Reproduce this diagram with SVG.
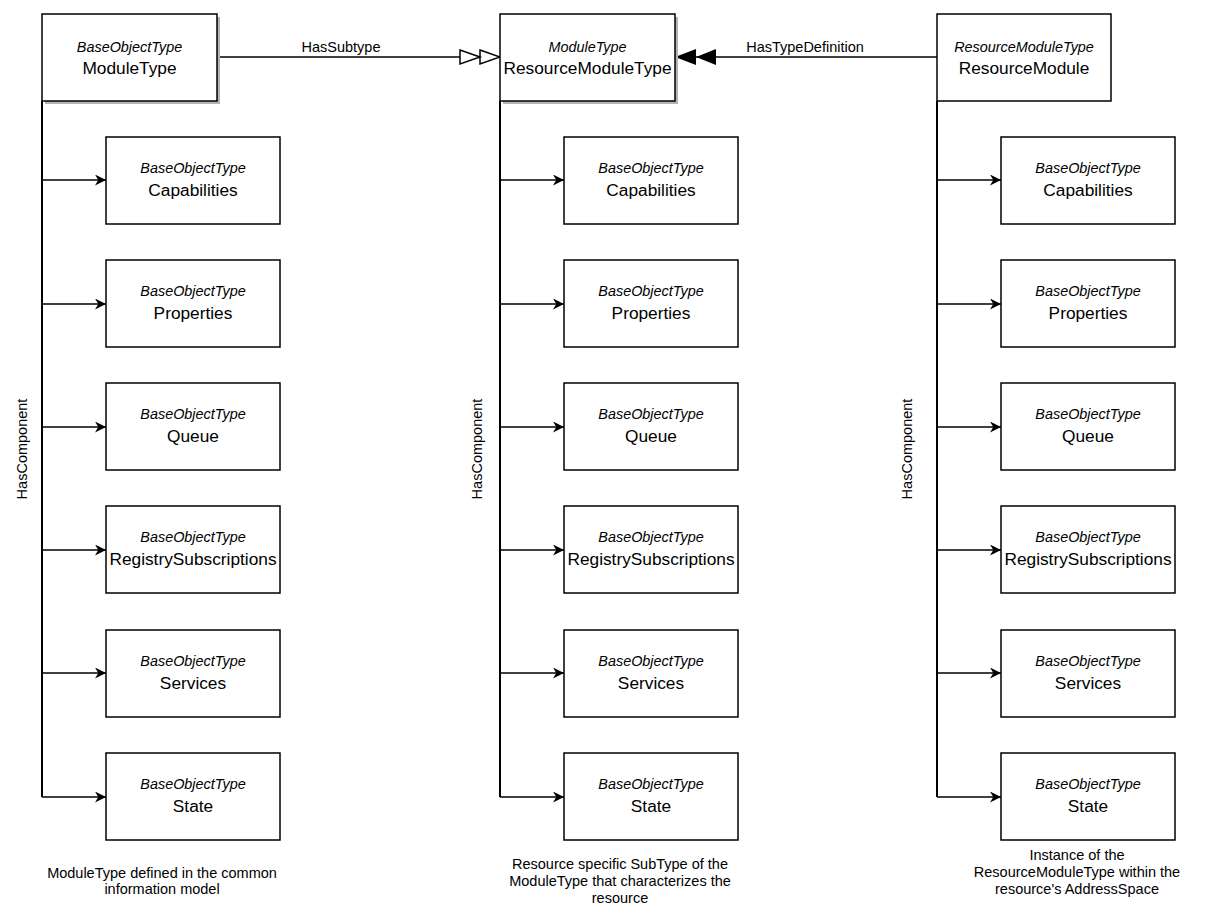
<svg xmlns="http://www.w3.org/2000/svg" width="1208" height="920" viewBox="0 0 1208 920">
<style>
.box{fill:#fff;stroke:#000;stroke-width:1.5}
.sh{fill:#b3b3b3}
.it{font-family:"Liberation Sans",Arial,sans-serif;font-size:14.4px;font-style:italic;text-anchor:middle;fill:#000}
.nm{font-family:"Liberation Sans",Arial,sans-serif;font-size:17.3px;text-anchor:middle;fill:#000}
.lb{font-family:"Liberation Sans",Arial,sans-serif;font-size:14.5px;text-anchor:middle;fill:#000}
.ln{fill:none;stroke:#000;stroke-width:1.5}
.vl{fill:none;stroke:#000;stroke-width:2}
</style>
<defs>
<marker id="arr" viewBox="0 0 10 10" refX="10" refY="5" markerWidth="11" markerHeight="11" markerUnits="userSpaceOnUse" orient="auto"><path d="M0,0 L10,5 L0,10 L3,5 Z" fill="#000"/></marker>
<marker id="hol" viewBox="-1 -1 44 18" refX="41" refY="8" markerWidth="44" markerHeight="18" markerUnits="userSpaceOnUse" orient="auto"><path d="M1,1 L21,8 L1,15 Z M21,1 L41,8 L21,15 Z" fill="#fff" stroke="#000" stroke-width="1.5"/></marker>
<marker id="fil" viewBox="0 0 42 18" refX="41" refY="9" markerWidth="42" markerHeight="18" markerUnits="userSpaceOnUse" orient="auto"><path d="M0,1 L20,9 L0,17 Z M20,1 L41,9 L20,17 Z" fill="#000"/></marker>
</defs>
<g id="connectors">
<path class="ln" d="M217,57 L500,57" marker-end="url(#hol)"/>
<text class="lb" x="341" y="52">HasSubtype</text>
<path class="ln" d="M937,57 L675,57" marker-end="url(#fil)"/>
<text class="lb" x="805" y="52">HasTypeDefinition</text>
<path class="vl" d="M42,101 L42,797"/>
<path class="vl" d="M500,101 L500,797"/>
<path class="vl" d="M937,101 L937,797"/>
<g class="ln">
<path d="M42,180 L106,180" marker-end="url(#arr)"/>
<path d="M42,304 L106,304" marker-end="url(#arr)"/>
<path d="M42,427 L106,427" marker-end="url(#arr)"/>
<path d="M42,550 L106,550" marker-end="url(#arr)"/>
<path d="M42,673 L106,673" marker-end="url(#arr)"/>
<path d="M42,797 L106,797" marker-end="url(#arr)"/>
<path d="M500,180 L564,180" marker-end="url(#arr)"/>
<path d="M500,304 L564,304" marker-end="url(#arr)"/>
<path d="M500,427 L564,427" marker-end="url(#arr)"/>
<path d="M500,550 L564,550" marker-end="url(#arr)"/>
<path d="M500,673 L564,673" marker-end="url(#arr)"/>
<path d="M500,797 L564,797" marker-end="url(#arr)"/>
<path d="M937,180 L1001,180" marker-end="url(#arr)"/>
<path d="M937,304 L1001,304" marker-end="url(#arr)"/>
<path d="M937,427 L1001,427" marker-end="url(#arr)"/>
<path d="M937,550 L1001,550" marker-end="url(#arr)"/>
<path d="M937,673 L1001,673" marker-end="url(#arr)"/>
<path d="M937,797 L1001,797" marker-end="url(#arr)"/>
</g>
<text class="lb" transform="translate(27,449) rotate(-90)">HasComponent</text>
<text class="lb" transform="translate(482,449) rotate(-90)">HasComponent</text>
<text class="lb" transform="translate(912,449) rotate(-90)">HasComponent</text>
</g>
<g id="n-moduletype"><rect class="sh" x="45" y="17" width="175" height="87"/><rect class="box" x="42" y="14" width="175" height="87"/><text class="it" x="129.5" y="52">BaseObjectType</text><text class="nm" x="129.5" y="74">ModuleType</text></g>
<g id="n-resourcemoduletype"><rect class="sh" x="503" y="17" width="175" height="87"/><rect class="box" x="500" y="14" width="175" height="87"/><text class="it" x="587.5" y="52">ModuleType</text><text class="nm" x="587.5" y="74">ResourceModuleType</text></g>
<g id="n-resourcemodule"><rect class="box" x="937" y="14" width="174" height="87"/><text class="it" x="1024" y="52">ResourceModuleType</text><text class="nm" x="1024" y="74">ResourceModule</text></g>

<g id="l-cap"><rect class="box" x="106" y="137" width="174" height="87"/><text class="it" x="193" y="173">BaseObjectType</text><text class="nm" x="193" y="196">Capabilities</text></g>
<g id="l-prop"><rect class="box" x="106" y="260" width="174" height="87"/><text class="it" x="193" y="296">BaseObjectType</text><text class="nm" x="193" y="319">Properties</text></g>
<g id="l-queue"><rect class="box" x="106" y="383" width="174" height="87"/><text class="it" x="193" y="419">BaseObjectType</text><text class="nm" x="193" y="442">Queue</text></g>
<g id="l-reg"><rect class="box" x="106" y="506" width="174" height="87"/><text class="it" x="193" y="542">BaseObjectType</text><text class="nm" x="193" y="565">RegistrySubscriptions</text></g>
<g id="l-serv"><rect class="box" x="106" y="630" width="174" height="87"/><text class="it" x="193" y="666">BaseObjectType</text><text class="nm" x="193" y="689">Services</text></g>
<g id="l-state"><rect class="box" x="106" y="753" width="174" height="87"/><text class="it" x="193" y="789">BaseObjectType</text><text class="nm" x="193" y="812">State</text></g>

<g id="m-cap"><rect class="box" x="564" y="137" width="174" height="87"/><text class="it" x="651" y="173">BaseObjectType</text><text class="nm" x="651" y="196">Capabilities</text></g>
<g id="m-prop"><rect class="box" x="564" y="260" width="174" height="87"/><text class="it" x="651" y="296">BaseObjectType</text><text class="nm" x="651" y="319">Properties</text></g>
<g id="m-queue"><rect class="box" x="564" y="383" width="174" height="87"/><text class="it" x="651" y="419">BaseObjectType</text><text class="nm" x="651" y="442">Queue</text></g>
<g id="m-reg"><rect class="box" x="564" y="506" width="174" height="87"/><text class="it" x="651" y="542">BaseObjectType</text><text class="nm" x="651" y="565">RegistrySubscriptions</text></g>
<g id="m-serv"><rect class="box" x="564" y="630" width="174" height="87"/><text class="it" x="651" y="666">BaseObjectType</text><text class="nm" x="651" y="689">Services</text></g>
<g id="m-state"><rect class="box" x="564" y="753" width="174" height="87"/><text class="it" x="651" y="789">BaseObjectType</text><text class="nm" x="651" y="812">State</text></g>

<g id="r-cap"><rect class="box" x="1001" y="137" width="174" height="87"/><text class="it" x="1088" y="173">BaseObjectType</text><text class="nm" x="1088" y="196">Capabilities</text></g>
<g id="r-prop"><rect class="box" x="1001" y="260" width="174" height="87"/><text class="it" x="1088" y="296">BaseObjectType</text><text class="nm" x="1088" y="319">Properties</text></g>
<g id="r-queue"><rect class="box" x="1001" y="383" width="174" height="87"/><text class="it" x="1088" y="419">BaseObjectType</text><text class="nm" x="1088" y="442">Queue</text></g>
<g id="r-reg"><rect class="box" x="1001" y="506" width="174" height="87"/><text class="it" x="1088" y="542">BaseObjectType</text><text class="nm" x="1088" y="565">RegistrySubscriptions</text></g>
<g id="r-serv"><rect class="box" x="1001" y="630" width="174" height="87"/><text class="it" x="1088" y="666">BaseObjectType</text><text class="nm" x="1088" y="689">Services</text></g>
<g id="r-state"><rect class="box" x="1001" y="753" width="174" height="87"/><text class="it" x="1088" y="789">BaseObjectType</text><text class="nm" x="1088" y="812">State</text></g>

<g id="caption-left"><text class="lb" x="162" y="878">ModuleType defined in the common</text><text class="lb" x="162" y="894">information model</text></g>
<g id="caption-mid"><text class="lb" x="620" y="869">Resource specific SubType of the</text><text class="lb" x="620" y="886">ModuleType that characterizes the</text><text class="lb" x="620" y="903">resource</text></g>
<g id="caption-right"><text class="lb" x="1077" y="860">Instance of the</text><text class="lb" x="1077" y="877">ResourceModuleType within the</text><text class="lb" x="1077" y="894">resource's AddressSpace</text></g>
</svg>
